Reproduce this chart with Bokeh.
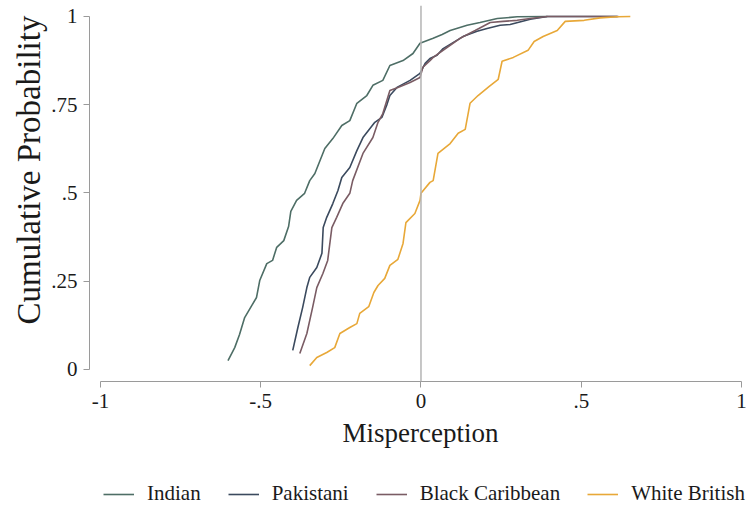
from bokeh.plotting import figure
from bokeh.models import Span, Legend, LegendItem, FixedTicker, Title
from bokeh.layouts import column
from bokeh.embed import file_html
from bokeh.resources import INLINE

indian_x = [-0.602, -0.581, -0.566, -0.550, -0.528, -0.513, -0.503, -0.481, -0.463, -0.450,
            -0.428, -0.413, -0.406, -0.388, -0.363, -0.347, -0.331, -0.300, -0.275, -0.247,
            -0.222, -0.200, -0.169, -0.150, -0.119, -0.097, -0.056, -0.025, -0.003, 0.038,
            0.066, 0.091, 0.144, 0.184, 0.238, 0.300, 0.394]
indian_y = [0.025, 0.062, 0.099, 0.147, 0.181, 0.204, 0.252, 0.300, 0.309, 0.346,
            0.365, 0.405, 0.448, 0.479, 0.499, 0.535, 0.555, 0.626, 0.654, 0.691,
            0.705, 0.754, 0.776, 0.805, 0.819, 0.861, 0.875, 0.895, 0.924, 0.938,
            0.949, 0.960, 0.975, 0.983, 0.994, 0.999, 1.0]

pakistani_x = [-0.400, -0.384, -0.369, -0.356, -0.347, -0.325, -0.309, -0.305, -0.294, -0.275,
               -0.259, -0.247, -0.222, -0.200, -0.181, -0.144, -0.122, -0.106, -0.097, -0.075,
               -0.034, -0.003, 0.013, 0.028, 0.050, 0.069, 0.100, 0.131, 0.175, 0.206,
               0.247, 0.278, 0.341, 0.394, 0.613]
pakistani_y = [0.054, 0.119, 0.176, 0.232, 0.261, 0.289, 0.329, 0.402, 0.431, 0.470,
               0.507, 0.544, 0.572, 0.620, 0.657, 0.700, 0.714, 0.751, 0.776, 0.799,
               0.819, 0.839, 0.867, 0.881, 0.890, 0.909, 0.926, 0.943, 0.958, 0.966,
               0.975, 0.977, 0.992, 1.0, 1.0]

caribbean_x = [-0.378, -0.356, -0.338, -0.325, -0.306, -0.291, -0.278, -0.263, -0.244, -0.222,
               -0.213, -0.181, -0.150, -0.134, -0.119, -0.097, -0.072, -0.034, -0.003, 0.006,
               0.028, 0.038, 0.081, 0.122, 0.169, 0.216, 0.256, 0.300, 0.341, 0.394, 0.616]
caribbean_y = [0.045, 0.102, 0.176, 0.232, 0.272, 0.309, 0.402, 0.431, 0.470, 0.499,
               0.535, 0.612, 0.657, 0.700, 0.725, 0.790, 0.799, 0.813, 0.827, 0.856,
               0.875, 0.884, 0.912, 0.938, 0.960, 0.983, 0.986, 0.989, 0.994, 1.0, 1.0]

british_x = [-0.347, -0.325, -0.294, -0.269, -0.253, -0.222, -0.200, -0.191, -0.163, -0.147,
             -0.134, -0.113, -0.097, -0.072, -0.056, -0.047, -0.019, -0.003, 0.0, 0.028,
             0.038, 0.053, 0.091, 0.116, 0.138, 0.153, 0.178, 0.213, 0.241, 0.253,
             0.288, 0.334, 0.353, 0.381, 0.425, 0.450, 0.509, 0.559, 0.613, 0.653]
british_y = [0.011, 0.034, 0.048, 0.062, 0.102, 0.119, 0.130, 0.159, 0.178, 0.218,
             0.238, 0.258, 0.295, 0.312, 0.357, 0.416, 0.442, 0.479, 0.499, 0.530,
             0.535, 0.612, 0.640, 0.669, 0.680, 0.754, 0.776, 0.802, 0.822, 0.873,
             0.884, 0.904, 0.929, 0.943, 0.960, 0.986, 0.989, 0.996, 0.999, 1.0]

series_names = ["Indian", "Pakistani", "Black Caribbean", "White British"]
x_ticks = [-1, -0.5, 0, 0.5, 1]
x_tick_labels = ["-1", "-.5", "0", ".5", "1"]
y_ticks = [0, 0.25, 0.5, 0.75, 1]
y_tick_labels = ["0", ".25", ".5", ".75", "1"]
x_title = "Misperception"
y_title = "Cumulative Probability"

colors = ["#4e6e66", "#3b4a5e", "#7a5c64", "#e8a838"]
FONT = "Liberation Serif"
data = [(indian_x, indian_y), (pakistani_x, pakistani_y),
        (caribbean_x, caribbean_y), (british_x, british_y)]

# ---------------- main chart ----------------
p = figure(width=751, height=468, output_backend="svg", toolbar_location=None,
           x_range=(-1.034, 1.031), y_range=(-0.034, 1.031),
           min_border_left=89, min_border_right=0, min_border_top=5, min_border_bottom=87)
p.outline_line_color = None
p.xgrid.visible = False
p.ygrid.visible = False
p.background_fill_color = "white"
p.border_fill_color = "white"

p.add_layout(Span(location=0, dimension="height", line_color="#b4b4b4", line_width=1.5))

for (xs, ys), c in zip(data, colors):
    p.line(xs, ys, line_color=c, line_width=1.6)

for ax in (p.xaxis[0], p.yaxis[0]):
    ax.axis_line_color = "#9a9a9a"
    ax.major_tick_line_color = "#9a9a9a"
    ax.minor_tick_line_color = None
    ax.major_tick_in = 0
    ax.major_tick_out = 6
    ax.major_label_text_font = FONT
    ax.major_label_text_font_size = "21px"
    ax.major_label_text_color = "#1a1a1a"
    ax.axis_label_text_font = FONT
    ax.axis_label_text_font_size = "27px"
    ax.axis_label_text_font_style = "normal"
    ax.axis_label_text_color = "#1a1a1a"

p.xaxis.ticker = FixedTicker(ticks=x_ticks)
p.xaxis.major_label_overrides = dict(zip(x_ticks, x_tick_labels))
p.yaxis.ticker = FixedTicker(ticks=y_ticks)
p.yaxis.major_label_overrides = dict(zip(y_ticks, y_tick_labels))
p.xaxis.bounds = (-1, 1)
p.yaxis.bounds = (0, 1)
p.xaxis.axis_label = x_title
p.yaxis.major_label_orientation = "horizontal"
p.xaxis.major_label_standoff = 6
p.yaxis.major_label_standoff = 6
p.xaxis.axis_label_standoff = 7

p.add_layout(Title(text=y_title, align="left", offset=57, text_font=FONT,
                   text_font_size="33px", text_font_style="normal",
                   text_color="#1a1a1a", standoff=4), "left")

# ---------------- legend strip ----------------
lg = figure(width=751, height=40, output_backend="svg", toolbar_location=None,
            x_range=(10, 11), y_range=(10, 11), x_axis_type=None, y_axis_type=None,
            min_border_left=0, min_border_right=0, min_border_top=0, min_border_bottom=0)
lg.outline_line_color = None
lg.xgrid.visible = False
lg.ygrid.visible = False
lg_renderers = []
for (xs, ys), c in zip(data, colors):
    lg_renderers.append(lg.line(xs, ys, line_color=c, line_width=1.6))

legend = Legend(items=[LegendItem(label=n, renderers=[r]) for n, r in zip(series_names, lg_renderers)],
                orientation="horizontal", location=(14, 2),
                label_text_font=FONT, label_text_font_size="21px", label_text_color="#1a1a1a",
                glyph_width=31, label_standoff=13, spacing=27, border_line_color=None,
                background_fill_alpha=0, margin=0, padding=0)
lg.add_layout(legend, "center")

layout = column(p, lg, spacing=0)
open("out.html", "w").write(file_html(layout, INLINE))
